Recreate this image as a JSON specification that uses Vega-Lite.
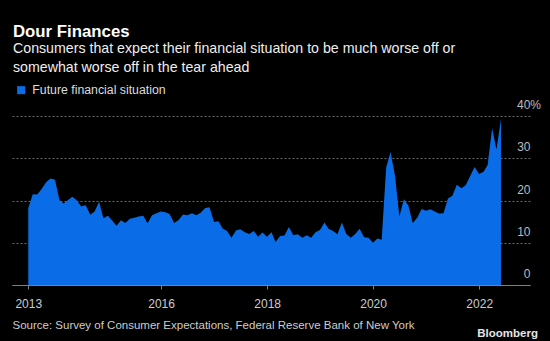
{
  "$schema": "https://vega.github.io/schema/vega-lite/v6.json",
  "width": 518,
  "height": 169,
  "autosize": {"type": "none"},
  "padding": {"left": 12, "top": 116, "right": 20, "bottom": 56},
  "background": "#000000",
  "config": {"view": {"stroke": null}, "font": "Liberation Sans"},
  "title": {
    "text": "Dour Finances",
    "subtitle": ["Consumers that expect their financial situation to be much worse off or", "somewhat worse off in the tear ahead"],
    "anchor": "start",
    "frame": "group",
    "dx": 1,
    "fontSize": 16.8,
    "fontWeight": "bold",
    "color": "#ffffff",
    "subtitleFontSize": 14.2,
    "subtitleColor": "#eeeeee",
    "subtitleLineHeight": 18.5,
    "subtitlePadding": 2,
    "offset": 9
  },
  "data": {
    "values": [
      {"date": "2013-06-30", "value": 18.2},
      {"date": "2013-07-31", "value": 21.5},
      {"date": "2013-08-31", "value": 21.4},
      {"date": "2013-09-30", "value": 22.7},
      {"date": "2013-10-31", "value": 24.3},
      {"date": "2013-11-30", "value": 25.2},
      {"date": "2013-12-31", "value": 24.9},
      {"date": "2014-01-31", "value": 20.1},
      {"date": "2014-02-28", "value": 19.3},
      {"date": "2014-03-31", "value": 20.1},
      {"date": "2014-04-30", "value": 20.9},
      {"date": "2014-05-31", "value": 20.0},
      {"date": "2014-06-30", "value": 18.6},
      {"date": "2014-07-31", "value": 18.9},
      {"date": "2014-08-31", "value": 16.6},
      {"date": "2014-09-30", "value": 17.4},
      {"date": "2014-10-31", "value": 19.7},
      {"date": "2014-11-30", "value": 15.8},
      {"date": "2014-12-31", "value": 16.4},
      {"date": "2015-01-31", "value": 15.2},
      {"date": "2015-02-28", "value": 14.0},
      {"date": "2015-03-31", "value": 15.3},
      {"date": "2015-04-30", "value": 14.7},
      {"date": "2015-05-31", "value": 15.7},
      {"date": "2015-06-30", "value": 15.9},
      {"date": "2015-07-31", "value": 16.2},
      {"date": "2015-08-31", "value": 16.4},
      {"date": "2015-09-30", "value": 14.6},
      {"date": "2015-10-31", "value": 16.5},
      {"date": "2015-11-30", "value": 17.0},
      {"date": "2015-12-31", "value": 17.4},
      {"date": "2016-01-31", "value": 17.2},
      {"date": "2016-02-29", "value": 16.8},
      {"date": "2016-03-31", "value": 14.7},
      {"date": "2016-04-30", "value": 15.3},
      {"date": "2016-05-31", "value": 16.7},
      {"date": "2016-06-30", "value": 16.5},
      {"date": "2016-07-31", "value": 17.0},
      {"date": "2016-08-31", "value": 16.5},
      {"date": "2016-09-30", "value": 17.1},
      {"date": "2016-10-31", "value": 18.2},
      {"date": "2016-11-30", "value": 18.4},
      {"date": "2016-12-31", "value": 14.9},
      {"date": "2017-01-31", "value": 15.1},
      {"date": "2017-02-28", "value": 13.4},
      {"date": "2017-03-31", "value": 12.8},
      {"date": "2017-04-30", "value": 11.2},
      {"date": "2017-05-31", "value": 12.9},
      {"date": "2017-06-30", "value": 13.2},
      {"date": "2017-07-31", "value": 12.5},
      {"date": "2017-08-31", "value": 12.1},
      {"date": "2017-09-30", "value": 12.8},
      {"date": "2017-10-31", "value": 11.4},
      {"date": "2017-11-30", "value": 12.4},
      {"date": "2017-12-31", "value": 11.4},
      {"date": "2018-01-31", "value": 12.5},
      {"date": "2018-02-28", "value": 10.2},
      {"date": "2018-03-31", "value": 11.6},
      {"date": "2018-04-30", "value": 11.7},
      {"date": "2018-05-31", "value": 13.7},
      {"date": "2018-06-30", "value": 11.8},
      {"date": "2018-07-31", "value": 12.0},
      {"date": "2018-08-31", "value": 11.2},
      {"date": "2018-09-30", "value": 11.8},
      {"date": "2018-10-31", "value": 11.2},
      {"date": "2018-11-30", "value": 12.5},
      {"date": "2018-12-31", "value": 13.0},
      {"date": "2019-01-31", "value": 14.8},
      {"date": "2019-02-28", "value": 13.3},
      {"date": "2019-03-31", "value": 12.8},
      {"date": "2019-04-30", "value": 12.0},
      {"date": "2019-05-31", "value": 14.8},
      {"date": "2019-06-30", "value": 12.1},
      {"date": "2019-07-31", "value": 11.2},
      {"date": "2019-08-31", "value": 12.1},
      {"date": "2019-09-30", "value": 13.3},
      {"date": "2019-10-31", "value": 11.3},
      {"date": "2019-11-30", "value": 11.2},
      {"date": "2019-12-31", "value": 10.0},
      {"date": "2020-01-31", "value": 11.0},
      {"date": "2020-02-29", "value": 10.7},
      {"date": "2020-03-31", "value": 27.8},
      {"date": "2020-04-30", "value": 31.5},
      {"date": "2020-05-31", "value": 25.8},
      {"date": "2020-06-30", "value": 16.2},
      {"date": "2020-07-31", "value": 20.3},
      {"date": "2020-08-31", "value": 18.8},
      {"date": "2020-09-30", "value": 14.7},
      {"date": "2020-10-31", "value": 15.9},
      {"date": "2020-11-30", "value": 18.0},
      {"date": "2020-12-31", "value": 17.6},
      {"date": "2021-01-31", "value": 17.9},
      {"date": "2021-02-28", "value": 17.4},
      {"date": "2021-03-31", "value": 16.9},
      {"date": "2021-04-30", "value": 17.0},
      {"date": "2021-05-31", "value": 20.5},
      {"date": "2021-06-30", "value": 21.1},
      {"date": "2021-07-31", "value": 23.7},
      {"date": "2021-08-31", "value": 22.9},
      {"date": "2021-09-30", "value": 23.6},
      {"date": "2021-10-31", "value": 25.8},
      {"date": "2021-11-30", "value": 27.9},
      {"date": "2021-12-31", "value": 26.3},
      {"date": "2022-01-31", "value": 26.8},
      {"date": "2022-02-28", "value": 28.4},
      {"date": "2022-03-31", "value": 37.1},
      {"date": "2022-04-30", "value": 32.1},
      {"date": "2022-05-31", "value": 39.3}
    ]
  },
  "mark": {"type": "area", "interpolate": "linear"},
  "encoding": {
    "x": {
      "field": "date",
      "type": "temporal",
      "scale": {"domain": [{"year": 2013, "month": 3, "date": 10}, {"year": 2022, "month": 12, "date": 17}]},
      "axis": {
        "values": [
          {"year": 2013, "month": 6, "date": 30},
          {"year": 2016, "month": 1, "date": 1},
          {"year": 2018, "month": 1, "date": 1},
          {"year": 2020, "month": 1, "date": 1},
          {"year": 2022, "month": 1, "date": 1}
        ],
        "format": "%Y",
        "grid": false,
        "domainColor": "#808080",
        "tickColor": "#808080",
        "tickSize": 4,
        "labelColor": "#cccccc",
        "labelFontSize": 12,
        "labelPadding": 9,
        "labelFlush": false,
        "labelOverlap": false,
        "title": "Source: Survey of Consumer Expectations, Federal Reserve Bank of New York",
        "titleAnchor": "start",
        "titleAlign": "left",
        "titleFontSize": 11.5,
        "titleFontWeight": "normal",
        "titleColor": "#cccccc",
        "titlePadding": 10
      }
    },
    "y": {
      "field": "value",
      "type": "quantitative",
      "scale": {"domain": [0, 40]},
      "axis": {
        "orient": "right",
        "values": [0, 10, 20, 30, 40],
        "domain": false,
        "ticks": false,
        "tickSize": 0,
        "grid": true,
        "gridColor": "#666666",
        "gridDash": [2, 2],
        "gridWidth": 1,
        "labelAlign": "right",
        "labelBaseline": "alphabetic",
        "labelOffset": -7.5,
        "labelPadding": {"condition": {"test": "datum.value == 40", "value": 10.5}, "value": 0},
        "labelExpr": "datum.value == 40 ? '40%' : datum.label",
        "labelColor": "#bbbbbb",
        "labelFontSize": 12,
        "title": "Bloomberg",
        "titleAngle": 0,
        "titleX": 7.5,
        "titleY": 220,
        "titleAlign": "right",
        "titleBaseline": "alphabetic",
        "titleFontSize": 11.5,
        "titleFontWeight": "bold",
        "titleColor": "#e6e6e6"
      }
    },
    "color": {
      "datum": "Future financial situation",
      "scale": {"range": ["#0a6ce6"]},
      "legend": {
        "orient": "none",
        "legendX": 3,
        "legendY": -32,
        "title": null,
        "symbolType": "square",
        "symbolSize": 64,
        "symbolStrokeWidth": 0,
        "labelFontSize": 12.3,
        "labelColor": "#dddddd",
        "labelOffset": 5
      }
    }
  }
}
